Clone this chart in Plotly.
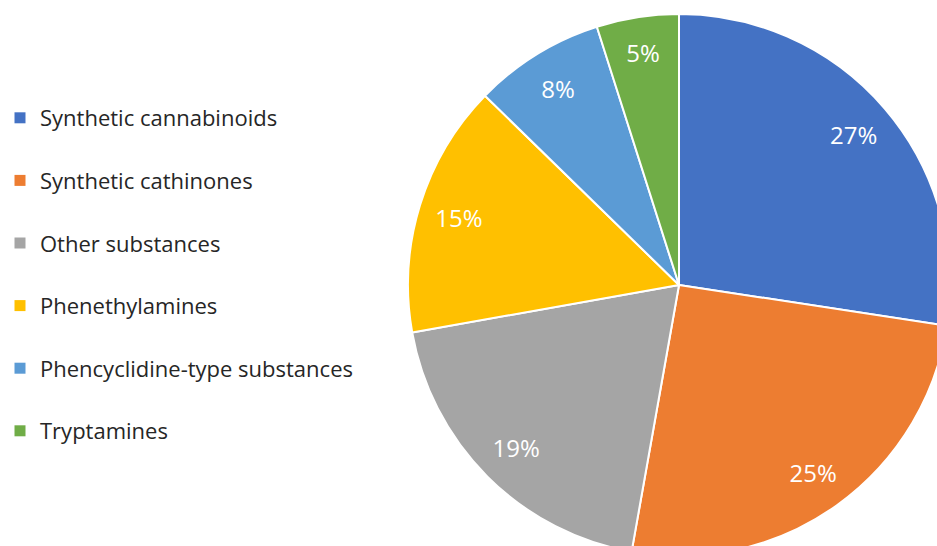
import plotly.graph_objects as go

categories = ["Synthetic cannabinoids", "Synthetic cathinones", "Other substances",
              "Phenethylamines", "Phencyclidine-type substances", "Tryptamines"]
values = [27.4, 25.4, 19.4, 15.1, 7.8, 4.9]
colors = ["#4472C4", "#ED7D31", "#A5A5A5", "#FFC000", "#5B9BD5", "#70AD47"]

W, H = 960, 560
cx, cy, r = 679, 285, 271
dom = dict(x=[(cx - r) / W, (cx + r) / W], y=[1 - (cy + r) / H, 1 - (cy - r) / H])

fig = go.Figure()
fig.add_trace(go.Pie(
    labels=categories, values=values, sort=False, direction="clockwise", rotation=0,
    marker=dict(colors=colors, line=dict(color="white", width=2)),
    textinfo="none", showlegend=False, hoverinfo="label+percent", domain=dom,
))
# transparent overlay ring used only to place the percentage labels near the rim
fig.add_trace(go.Pie(
    labels=categories, values=values, sort=False, direction="clockwise", rotation=0,
    hole=0.7,
    marker=dict(colors=["rgba(0,0,0,0)"] * len(values), line=dict(width=0)),
    texttemplate="%{percent:.0%}", textposition="inside",
    insidetextorientation="horizontal",
    textfont=dict(family="Open Sans", size=24, color="white"),
    showlegend=False, hoverinfo="skip", domain=dom,
))
for i, (c, col) in enumerate(zip(categories, colors)):
    fig.add_trace(go.Scatter(
        x=[None], y=[None], mode="markers", name=c, legendgroup=str(i),
        marker=dict(symbol="square", size=11, color=col),
    ))

fig.update_layout(
    width=W, height=H, margin=dict(l=0, r=0, t=0, b=0),
    paper_bgcolor="white", plot_bgcolor="white",
    xaxis=dict(visible=False), yaxis=dict(visible=False),
    legend=dict(x=0, y=1 - 97 / H, xanchor="left", yanchor="top",
                font=dict(family="Open Sans", size=22, color="#262626"),
                tracegroupgap=31, itemwidth=30, bgcolor="rgba(0,0,0,0)"),
)
fig.write_html("out.html", post_script="document.documentElement.style.overflow='hidden';document.body.style.overflow='hidden';document.body.style.margin='0';")
